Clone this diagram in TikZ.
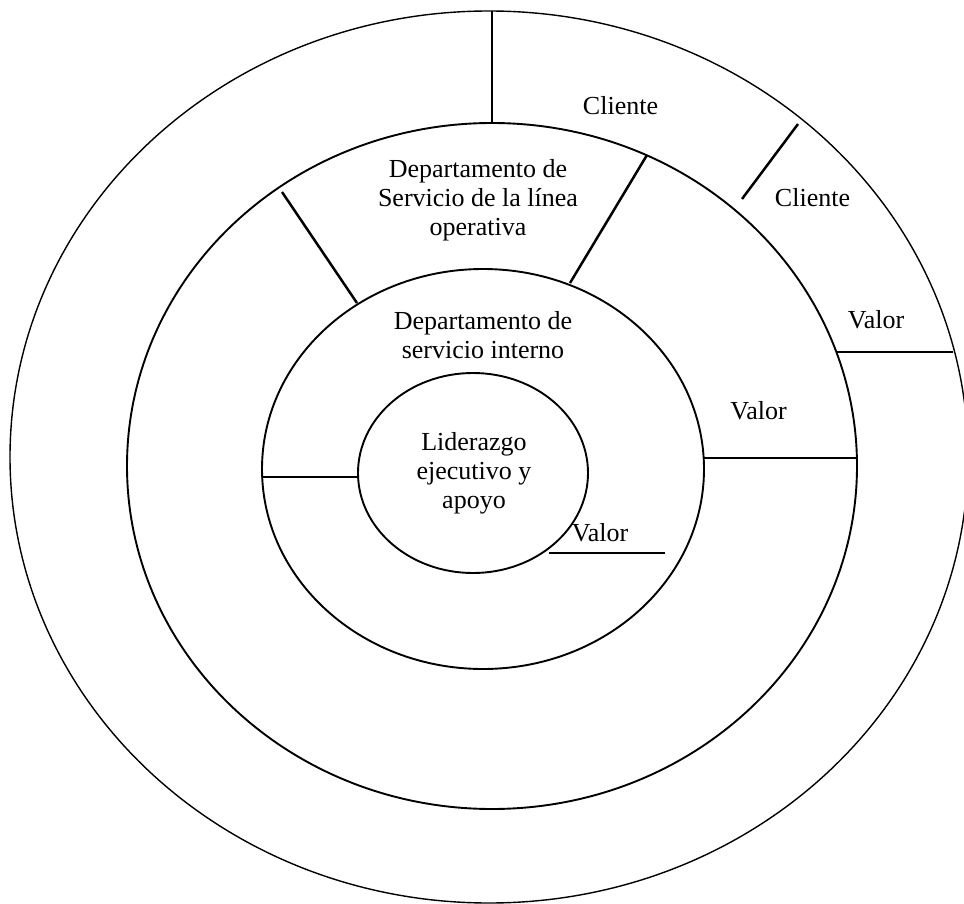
\documentclass[tikz,border=0pt]{standalone}
\usepackage{fontspec}
\setmainfont{Liberation Serif}
\begin{document}
\begin{tikzpicture}[x=1pt,y=-1pt,
  rim/.style={draw=black, line width=1.4pt},
  ring/.style={draw=black, line width=1.9pt},
  divider/.style={draw=black, line width=1.9pt},
  slant/.style={draw=black, line width=2.5pt},
  lbl/.style={font=\fontsize{26}{29}\selectfont, inner sep=0pt, align=center},
  word/.style={font=\fontsize{26}{29}\selectfont, inner sep=0pt, anchor=base}]
\useasboundingbox (0,0) rectangle (964,904);

% concentric rings, outermost first
\draw[rim]  (489,457) ellipse [x radius=479, y radius=446];
\draw[ring] (492,466) ellipse [x radius=365, y radius=343];
\draw[ring] (483,469) ellipse [x radius=221, y radius=200];
\draw[ring] (473,473) ellipse [x radius=115, y radius=100];

% end points of the dividing strokes
\coordinate (topA) at (492,11);   \coordinate (topB) at (492,123);
\coordinate (lsA)  at (282,192);  \coordinate (lsB)  at (357,303);
\coordinate (rsA)  at (647,155);  \coordinate (rsB)  at (570,283);
\coordinate (clA)  at (798,124);  \coordinate (clB)  at (742,199);
\coordinate (voA)  at (837,352);  \coordinate (voB)  at (953,352);
\coordinate (vmA)  at (704,458);  \coordinate (vmB)  at (857,458);
\coordinate (lhA)  at (262,477);  \coordinate (lhB)  at (357,477);
\coordinate (viA)  at (549,553);  \coordinate (viB)  at (665,553);

\draw[divider] (topA) -- (topB);
\draw[slant]   (lsA) -- (lsB);
\draw[slant]   (rsA) -- (rsB);
\draw[slant]   (clA) -- (clB);
\draw[divider] (voA) -- (voB);
\draw[divider] (vmA) -- (vmB);
\draw[divider] (lhA) -- (lhB);
\draw[divider] (viA) -- (viB);

% labels
\node[lbl] (linea)   at (478,200) {Departamento de\\Servicio de la línea\\operativa};
\node[lbl] (interno) at (483,335) {Departamento de\\servicio interno};
\node[lbl] (lider)   at (474,473) {Liderazgo\\ejecutivo y\\apoyo};
\node[word] (cli1) at (620.5,115) {Cliente};
\node[word] (cli2) at (812.5,206.7) {Cliente};
\node[word] (val1) at (876,328) {Valor};
\node[word] (val2) at (758.5,419) {Valor};
\node[word] (val3) at (600,541.7) {Valor};
\end{tikzpicture}
\end{document}
